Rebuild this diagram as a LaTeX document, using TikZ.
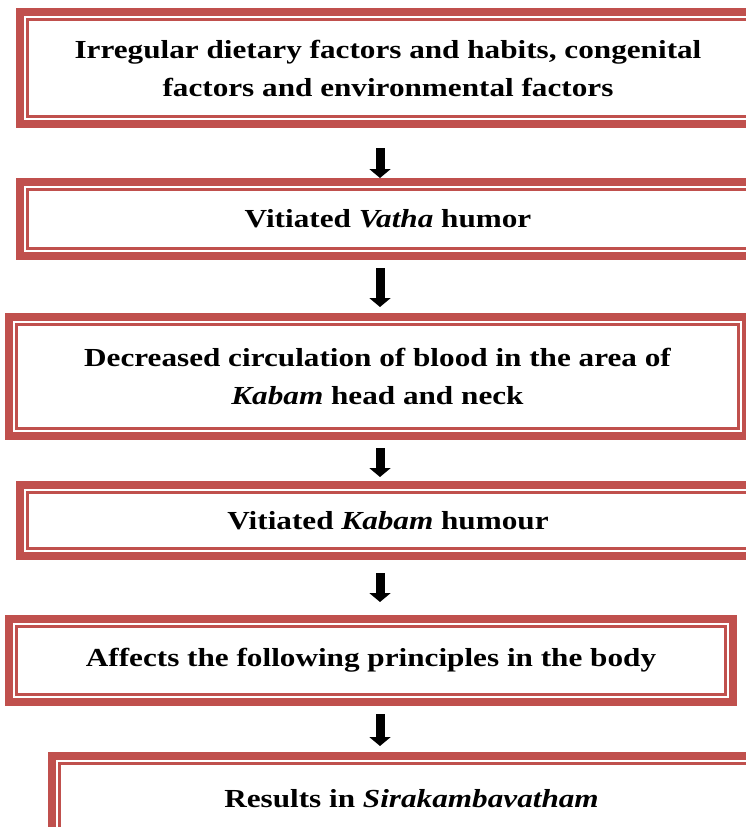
\documentclass[tikz,border=0pt]{standalone}
\usepackage{fontspec}
\setmainfont{Liberation Serif}[FakeStretch=1.2]
\usepackage{tikz}
\usetikzlibrary{arrows.meta,calc}
\definecolor{boxred}{RGB}{192,80,77}
\tikzset{
  flowbox/.style={
    draw=boxred, line width=8pt,
    align=center, inner sep=0pt,
    font=\bfseries\fontsize{26}{38}\selectfont,
    append after command={\pgfextra{\let\thisbox=\tikzlastnode
      \draw[boxred, line width=2.5pt]
        ([shift={(11.5pt,-11.5pt)}]\thisbox.north west) rectangle
        ([shift={(-11.5pt,11.5pt)}]\thisbox.south east);}}
  },
  blk/.style={-{Triangle[width=21pt,length=9pt]}, line width=9pt, draw=black}
}
\begin{document}
\begin{tikzpicture}[x=1pt,y=-1pt]
  \useasboundingbox (0,0) rectangle (746,827);
  \coordinate (mid) at (380,0);
  \node[flowbox, minimum width=736pt, minimum height=112pt] (cause) at (388,68)
    {Irregular dietary factors and habits, congenital\\factors and environmental factors};
  \node[flowbox, minimum width=736pt, minimum height=74pt] (vatha) at (388,219)
    {Vitiated \textit{Vatha} humor};
  \node[flowbox, minimum width=737pt, minimum height=119pt] (blood) at (377.5,376.5)
    {Decreased circulation of blood in the area of\\\textit{Kabam} head and neck};
  \node[flowbox, minimum width=736pt, minimum height=71pt] (kabam) at (388,520.5)
    {Vitiated \textit{Kabam} humour};
  \node[flowbox, minimum width=724pt, minimum height=83pt] (affect) at (371,660.5)
    {Affects the following principles in the body};
  \node[flowbox, minimum width=719pt, minimum height=85pt] (result) at (411.5,798.5)
    {Results in \textit{Sirakambavatham}};
  \draw[blk, shorten <=20pt, shorten >=0pt] (cause.south -| mid) -- (vatha.north -| mid);
  \draw[blk, shorten <=8pt, shorten >=6pt] (vatha.south -| mid) -- (blood.north -| mid);
  \draw[blk, shorten <=8pt, shorten >=4pt] (blood.south -| mid) -- (kabam.north -| mid);
  \draw[blk, shorten <=13pt, shorten >=13pt] (kabam.south -| mid) -- (affect.north -| mid);
  \draw[blk, shorten <=8pt, shorten >=6pt] (affect.south -| mid) -- (result.north -| mid);
\end{tikzpicture}
\end{document}
